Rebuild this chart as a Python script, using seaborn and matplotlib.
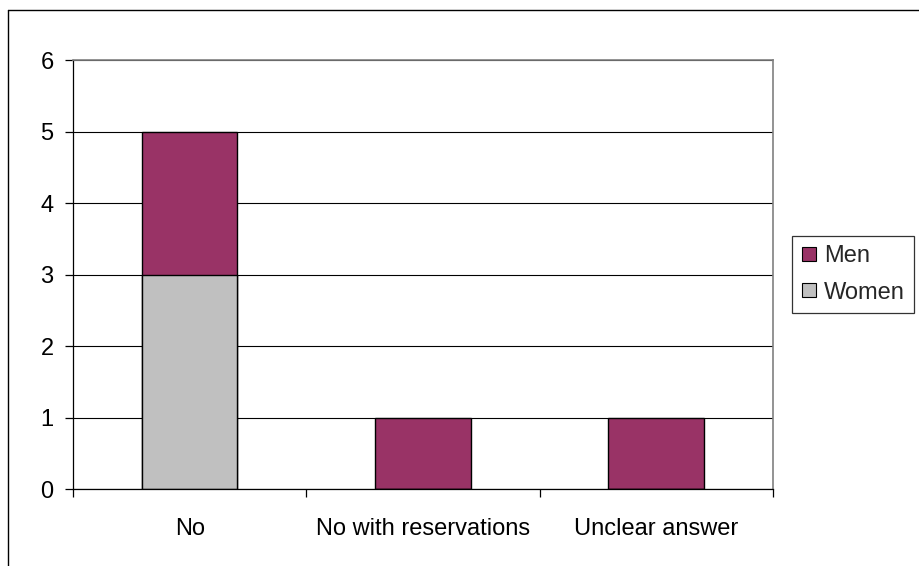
import matplotlib
matplotlib.use("Agg")
import matplotlib.pyplot as plt
import matplotlib.lines as mlines
from matplotlib.ticker import FixedLocator, NullFormatter
import seaborn as sns
import pandas as pd

categories = ["No", "No with reservations", "Unclear answer"]
men = [2, 1, 1]
women = [3, 0, 0]
y_ticks = [0, 1, 2, 3, 4, 5, 6]

MEN_COLOR = "#993366"
WOMEN_COLOR = "#C0C0C0"
FONT_SIZE = 17

sns.set_theme(style="white")
plt.rcParams["font.family"] = ["Liberation Sans", "DejaVu Sans"]

totals = [m + w for m, w in zip(men, women)]
df = pd.DataFrame({"category": categories, "men": men, "women": women, "total": totals})

fig = plt.figure(figsize=(9.2, 5.66), dpi=100)
ax = fig.add_axes([73 / 920, 1 - 489 / 566, 700 / 920, 429 / 566])

# stacked bars: the full height in the men colour, women drawn over the lower part
sns.barplot(data=df, x="category", y="total", color=MEN_COLOR, width=0.41,
            edgecolor="black", linewidth=1.0, saturation=1, ax=ax, label="Men")
sns.barplot(data=df, x="category", y="women", color=WOMEN_COLOR, width=0.41,
            edgecolor="black", linewidth=1.0, saturation=1, ax=ax, label="Women")

ax.set_xlim(-0.5, 2.5)
ax.set_ylim(0, 6)
ax.set_yticks(y_ticks)
ax.set_xlabel("")
ax.set_ylabel("")

ax.yaxis.grid(True, color="black", linewidth=0.8)
ax.set_axisbelow(True)

for side in ("top", "right"):
    ax.spines[side].set_color("#808080")
    ax.spines[side].set_linewidth(1.2)
for side in ("left", "bottom"):
    ax.spines[side].set_color("black")
    ax.spines[side].set_linewidth(0.9)

ax.tick_params(axis="y", which="major", direction="out", length=6, width=0.9,
               color="black", left=True, labelsize=FONT_SIZE, pad=8, labelcolor="black")
ax.tick_params(axis="x", which="major", length=0, labelsize=FONT_SIZE, pad=21, labelcolor="black")
ax.xaxis.set_minor_locator(FixedLocator([-0.5, 0.5, 1.5, 2.5]))
ax.xaxis.set_minor_formatter(NullFormatter())
ax.tick_params(axis="x", which="minor", direction="out", length=6, width=0.9,
               color="black", bottom=True)

if ax.get_legend() is not None:
    ax.get_legend().remove()

handles = [
    mlines.Line2D([], [], marker="s", linestyle="none", markersize=9.5,
                  markerfacecolor=MEN_COLOR, markeredgecolor="black", markeredgewidth=0.8),
    mlines.Line2D([], [], marker="s", linestyle="none", markersize=9.5,
                  markerfacecolor=WOMEN_COLOR, markeredgecolor="black", markeredgewidth=0.8),
]
leg = fig.legend(handles, ["Men", "Women"], loc="upper left",
                 bbox_to_anchor=(792 / 920, 1 - 236 / 566), frameon=True, fancybox=False,
                 fontsize=FONT_SIZE, handlelength=0.65, handletextpad=0.3, labelspacing=0.6,
                 borderpad=0.4, borderaxespad=0)
leg.get_frame().set_edgecolor("black")
leg.get_frame().set_linewidth(0.9)

# chart frame along the top and left edges
fig.add_artist(mlines.Line2D([8 / 920, 1.0], [1 - 10 / 566, 1 - 10 / 566],
                             transform=fig.transFigure, color="black", linewidth=1.0))
fig.add_artist(mlines.Line2D([8 / 920, 8 / 920], [0.0, 1 - 10 / 566],
                             transform=fig.transFigure, color="black", linewidth=1.0))

fig.savefig("out.png", dpi=100)
